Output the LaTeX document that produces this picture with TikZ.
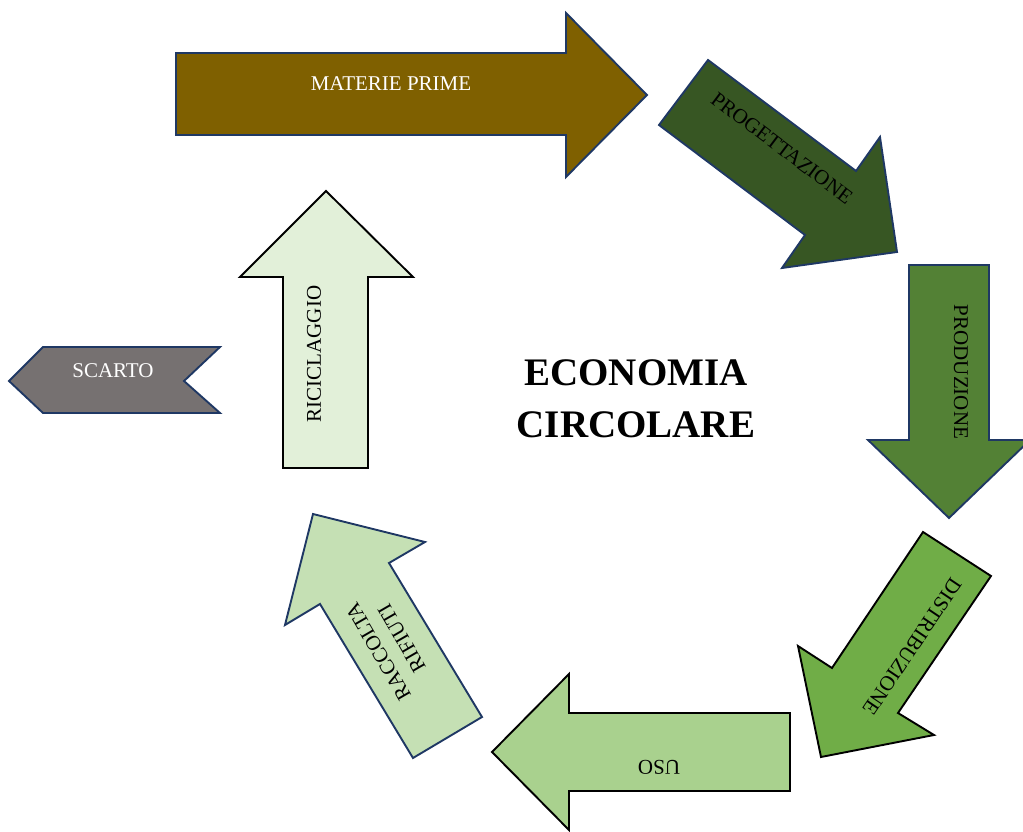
\documentclass[tikz,border=0pt]{standalone}
\usepackage{fontspec}
\setmainfont{Liberation Serif}
\definecolor{navy}{HTML}{1F3864}
\definecolor{fmaterie}{HTML}{7F6000}
\definecolor{fprogetto}{HTML}{375623}
\definecolor{fproduz}{HTML}{538135}
\definecolor{fdistrib}{HTML}{70AD47}
\definecolor{fuso}{HTML}{A9D18E}
\definecolor{fraccolta}{HTML}{C5E0B4}
\definecolor{fricicl}{HTML}{E2F0D9}
\definecolor{fscarto}{HTML}{767171}
\tikzset{
bigarrow/.style = {draw=navy, line width=1.9pt, line join=miter},
blackarrow/.style = {bigarrow, draw=black},
lbl/.style = {font=\fontsize{21}{27}\selectfont, align=center, inner sep=0pt},
title/.style = {font=\fontsize{39}{52}\selectfont\bfseries, align=center, inner sep=0pt}
}

\begin{document}
\begin{tikzpicture}[x=1pt,y=-1pt]
		\useasboundingbox (0,0) rectangle (1023,832);

		\draw [bigarrow, fill=fmaterie] (176,53) -- (566,53) -- (566,13) -- (647,95) -- (566,177) -- (566,135) -- (176,135) -- cycle;
		\draw [bigarrow, fill=fprogetto] (708,60) -- (856,171) -- (880,137) -- (897,252) -- (782,268) -- (805,235) -- (659,125) -- cycle;
		\draw [bigarrow, fill=fproduz] (909,265) -- (989,265) -- (989,440) -- (1030,440) -- (949,518) -- (868,440) -- (909,440) -- cycle;
		\draw [blackarrow, fill=fdistrib] (923,532) -- (991,576) -- (898,713) -- (934,735) -- (821,757) -- (798,646) -- (832,668) -- cycle;
		\draw [blackarrow, fill=fuso] (492,752) -- (569,674) -- (569,713) -- (790,713) -- (790,791) -- (569,791) -- (569,830) -- cycle;
		\draw [bigarrow, fill=fraccolta] (313,514) -- (425,542) -- (389,563) -- (482,717) -- (413,758) -- (320,604) -- (285,625) -- cycle;
		\draw [blackarrow, fill=fricicl] (326,191) -- (413,277) -- (368,277) -- (368,468) -- (283,468) -- (283,277) -- (240,277) -- cycle;
		\draw [bigarrow, fill=fscarto] (9,381) -- (43,347) -- (220,347) -- (184,381) -- (220,413) -- (43,413) -- cycle;

		\node [lbl, text=white] (materie) at (391,84) {MATERIE PRIME};
		\node [lbl, rotate=-37] (progetto) at (782,148) {PROGETTAZIONE};
		\node [lbl, rotate=-90] (produz) at (961,372) {PRODUZIONE};
		\node [lbl, rotate=-124] (distrib) at (912,647) {DISTRIBUZIONE};
		\node [lbl, rotate=180] (uso) at (659,767) {USO};
		\node [lbl, rotate=120] (raccolta) at (390,645) {RACCOLTA\\RIFIUTI};
		\node [lbl, rotate=90] (ricicl) at (314,354) {RICICLAGGIO};
		\node [lbl, text=white] (scarto) at (113,371) {SCARTO};

		\node [title] (economia) at (636,399) {ECONOMIA\\CIRCOLARE};
\end{tikzpicture}
\end{document}
